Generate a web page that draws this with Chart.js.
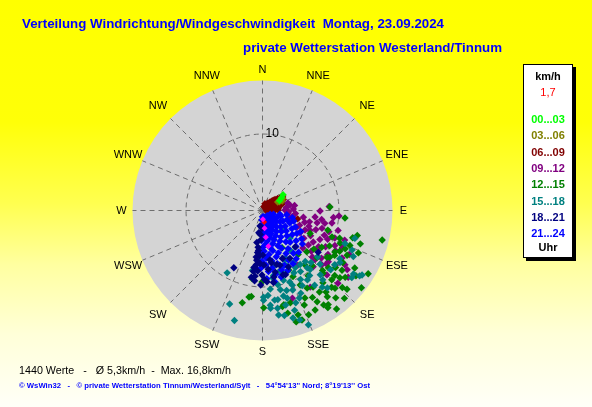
<!DOCTYPE html>
<html>
<head>
<meta charset="utf-8">
<title>Windrichtung / Windgeschwindigkeit</title>
<script src="https://cdn.jsdelivr.net/npm/chart.js@4.4.1/dist/chart.umd.min.js"></script>
<style>
html, body { margin: 0; padding: 0; }
body {
    width: 592px; height: 407px; overflow: hidden; position: relative;
    background: linear-gradient(to bottom, #ffff00 0%, #ffff08 30%, #ffff50 50%, #ffffa0 65%, #ffffd8 82%, #fffff8 100%);
    font-family: "Liberation Sans", Arial, sans-serif;
}
#rose { position: absolute; left: 0; top: 0; }
.txt { position: absolute; white-space: pre; transform-origin: left center; }
.head { color: #0000ff; font-weight: bold; font-size: 13px; line-height: 16px; }
#stats { color: #000; font-size: 11px; line-height: 14px; }
#copy { color: #0000ff; font-weight: bold; font-size: 8px; line-height: 10px; }
#legend {
    position: absolute; left: 523px; top: 64px; width: 48px; height: 192px;
    background: #fff; border: 1px solid #000; box-shadow: 3px 3px 0 #000;
}
#legend div {
    position: absolute; left: 0; width: 100%; text-align: center;
    font-size: 11px; line-height: 12px; font-weight: bold;
}
</style>
</head>
<body>
<canvas id="rose" width="592" height="407"></canvas>
<div class="txt head" id="title">Verteilung Windrichtung/Windgeschwindigkeit  Montag, 23.09.2024</div>
<div class="txt head" id="subtitle">private Wetterstation Westerland/Tinnum</div>
<div class="txt" id="stats"></div>
<div class="txt" id="copy">© WsWin32   -   © private Wetterstation Tinnum/Westerland/Sylt   -   54°54'13'' Nord; 8°19'13'' Ost</div>
<div id="legend"></div>

<script>
// Achsen / Beschriftung
const directions = ['N', 'NNE', 'NE', 'ENE', 'E', 'ESE', 'SE', 'SSE', 'S', 'SSW', 'SW', 'WSW', 'W', 'WNW', 'NW', 'NNW'];
const speedRings = [10];
const speedMax = 17;
const hourLabels = ['00...03', '03...06', '06...09', '09...12', '12...15', '15...18', '18...21', '21...24'];
const currentSpeed = '1,7';
const valueCount = 1440;
const avgSpeed = '5,3';
const maxSpeed = '16,8';

// Messwerte: [Richtung in Grad, Geschwindigkeit km/h]
const pts00_03 = [[54, 3.4], [58, 3.0], [62, 2.6]];
const pts03_06 = [[63, 2.3], [62, 2.7], [61, 3.1], [65, 2.5], [60, 2.9], [66, 2.9]];
const pts06_09 = [
    [58, 3.2], [61, 3.0], [56, 2.8], [63, 2.7], [54, 2.5], [59, 2.4], [66, 2.3], [51, 2.2], [57, 2.0], [69, 2.0],
    [48, 1.8], [62, 1.7], [73, 1.7], [45, 1.5], [58, 1.4], [77, 1.5], [84, 1.8], [88, 1.3], [40, 1.2], [66, 1.1],
    [92, 1.0], [52, 0.9], [80, 0.8], [35, 0.7], [100, 0.6], [70, 0.5], [30, 0.5], [64, 3.1], [60, 2.6], [68, 2.6],
    [82, 2.2], [90, 2.1], [95, 1.6], [76, 2.5], [72, 2.9], [104, 4.8], [55, 3.3], [50, 2.0], [45, 1.0], [25, 0.9]
];
const pts09_12 = [
    [75, 3.5], [80, 3.7], [84, 3.2], [90, 3.0], [94, 3.5], [98, 3.4], [88, 4.1], [96, 4.4], [82, 4.3], [103, 4.0],
    [107, 3.8], [116, 5.1], [115, 6.2], [121, 5.8], [112, 5.3], [106, 5.8], [100, 5.5], [104, 6.4], [109, 6.5], [124, 6.6],
    [113, 6.8], [97.5, 7.0], [103, 7.4], [110, 7.5], [133, 7.3], [118, 7.2], [127, 7.6], [91, 7.6], [122, 7.9], [99, 7.9],
    [107, 8.2], [102, 8.4], [130, 8.4], [117, 8.5], [147, 8.6], [87, 8.8], [123, 8.8], [112, 8.8], [133, 9.0], [126, 9.0],
    [108, 9.2], [100.5, 9.3], [96, 9.4], [114, 9.4], [133, 9.5], [120, 9.6], [129, 10.0], [138, 10.0], [94.5, 10.1], [111, 10.2],
    [105, 10.3], [124, 10.4], [132.5, 10.6], [116, 10.6], [119, 11.0], [130, 11.0], [128, 11.0], [110, 11.5], [115, 11.6], [148, 11.9],
    [135, 12.0], [127, 12.0], [121, 12.2], [161, 12.2], [117, 12.8], [123.5, 13.0], [125, 13.6], [134, 13.8], [128, 14.3]
];
const pts12_15 = [
    [87.5, 8.9], [95.5, 10.9], [104, 16.2], [105, 12.9], [107, 9.0], [107, 12.4], [109, 13.6], [110, 10.8], [111, 9.8], [112, 12.4],
    [113, 11.1], [114, 13.8], [115, 12.0], [116, 7.0], [118, 10.0], [118, 11.5], [118, 12.6], [120, 11.0], [121, 16.2], [122, 9.2],
    [122, 11.2], [122, 14.3], [123, 12.6], [125, 10.8], [125, 15.0], [126, 10.5], [127, 8.5], [127, 13.1], [128, 12.2], [128, 16.5],
    [129, 14.0], [131, 9.5], [131, 11.5], [131, 13.5], [132, 12.8], [133, 8.0], [133, 15.2], [134, 14.6], [135, 11.2], [135, 12.9],
    [136, 11.5], [137, 14.0], [137, 15.8], [138, 9.8], [138, 13.6], [140, 12.4], [140, 15.0], [141, 7.5], [142, 9.1], [142, 13.6],
    [143, 14.2], [143, 16.2], [145, 10.5], [145, 13.1], [145, 15.1], [146, 15.4], [146.5, 12.1], [147, 14.8], [149, 14.0], [150, 11.8],
    [150, 13.2], [152, 5.6], [152, 14.8], [153, 11.0], [154, 12.8], [155, 9.6], [156, 8.6], [156, 13.6], [156, 15.0], [160, 15.3],
    [161, 14.5], [163, 12.7], [163, 15.3], [166, 13.9], [167, 12.7], [168, 12.9], [179, 12.8], [180, 9.4], [187, 11.4], [188, 9.1],
    [188.5, 11.5], [192, 12.4]
];
const pts15_18 = [
    [135, 3.7], [135, 5.2], [145, 6.4], [184, 6.5], [154, 7.0], [155, 7.2], [167, 7.4],
    [189, 8.0], [162, 8.6], [170, 8.7], [150, 8.7], [145, 8.7], [140, 8.8], [171, 9.0], [209, 9.4], [130, 9.5],
    [163, 9.6], [141, 10.0], [168, 10.0], [159, 10.1], [133, 10.4], [151, 10.4], [158, 10.6], [144, 10.6], [167, 10.7], [163, 11.0],
    [159, 11.2], [179, 11.4], [138, 11.4], [112, 11.7], [179, 11.8], [127, 11.9], [131, 11.9], [170, 11.9], [172, 11.9], [164, 12.0],
    [145, 12.0], [122, 12.0], [139, 12.1], [124, 12.3], [157, 12.5], [175, 12.5], [107, 12.7], [166, 12.8], [142, 12.8], [175, 12.9],
    [114, 12.9], [171, 13.0], [199, 13.0], [140, 13.3], [117, 13.4], [162, 13.8], [171, 13.9], [168, 14.1], [164, 14.7], [127, 14.7],
    [125, 14.6], [194, 14.9], [161, 15.2], [124, 15.4], [123, 15.6], [158, 16.2], [148, 9.5], [153, 9.2], [156, 8.0], [160, 7.8],
    [165, 8.4], [152, 11.2], [147, 10.9], [155, 12.0], [160, 12.9], [166, 11.6], [174, 10.4], [176, 11.2], [142, 9.6], [137, 9.4],
    [149, 8.0]
];
const pts18_21 = [
    [187, 2.1], [180, 2.4], [184, 3.2], [188, 3.0], [182, 3.9], [189, 4.3], [186, 4.9],
    [185, 5.3], [186, 5.6], [179, 5.9], [183, 6.0],
    [186, 6.6], [171, 6.6], [187, 6.2], [138, 6.5], [157, 6.9], [170, 7.0], [182, 7.0], [186, 7.2], [178, 7.2],
    [150, 7.3], [165, 7.4], [187, 7.5], [162, 7.6], [174, 7.8], [188, 7.6], [188, 8.1], [184, 8.0], [155, 8.2], [168, 8.3],
    [206, 8.4], [180, 8.5], [186, 8.7], [189, 8.9], [162, 8.9], [170, 8.9], [160, 9.0], [178, 9.1], [127, 9.2], [176, 9.4],
    [186, 9.3], [171, 9.6], [181, 9.8]
];
const pts21_24 = [
    [103, 2.4], [101, 3.3], [104, 4.1],
    [110, 1.6], [108, 2.6], [111, 3.5], [109, 4.4],
    [117, 1.2], [116, 2.2], [118, 3.1], [115, 4.0], [117, 4.9], [119, 5.8],
    [124, 1.8], [123, 2.8], [125, 3.7], [122, 4.6], [124, 5.5], [126, 6.4],
    [131, 1.4], [130, 2.4], [132, 3.3], [131, 4.2], [129, 5.1], [132, 6.0], [130, 6.9],
    [138, 1.0], [137, 2.0], [139, 2.9], [138, 3.8], [136, 4.7], [139, 5.6], [137, 6.5], [139, 7.3],
    [145, 1.5], [144, 2.5], [146, 3.4], [145, 4.3], [143, 5.2], [146, 6.1], [144, 7.0], [145, 7.8],
    [152, 1.1], [151, 2.0], [153, 2.9], [152, 3.8], [150, 4.7], [153, 5.6], [151, 6.5], [152, 7.4], [150, 8.1],
    [158, 1.5], [157, 2.4], [159, 3.3], [158, 4.2], [156, 5.1], [159, 6.0], [157, 6.9], [158, 7.8], [157, 8.6],
    [164, 0.9], [163, 1.9], [165, 2.8], [164, 3.7], [162, 4.6], [165, 5.5], [163, 6.4], [164, 7.3], [162, 8.2], [164, 9.1],
    [170, 1.4], [169, 2.3], [171, 3.2], [170, 4.1], [168, 5.0], [171, 5.9], [169, 6.8], [170, 7.7], [168, 8.6], [170, 9.5],
    [176, 0.9], [175, 1.8], [177, 2.7], [176, 3.6], [174, 4.5], [177, 5.4], [175, 6.3], [176, 7.2], [174, 8.1], [176, 9.0],
    [181, 1.3], [180, 2.2], [182, 3.1], [181, 4.0], [179, 4.9], [182, 5.8], [180, 6.7], [181, 7.6]
];
// letzte Werte (hervorgehoben)
const latestPts = [[174, 1.2], [172, 2.4], [172, 3.6], [170, 4.8]];
const currentPt = [[170, 1.6]];

const hourColors = ['#00ff00', '#808000', '#800000', '#800080', '#008000', '#008080', '#000080', '#0000ff'];
// Zeichenreihenfolge: kleinere Zahl liegt oben
const hourOrder = [1, 2, 8, 7, 6, 5, 3, 4];
const hourPts = [pts00_03, pts03_06, pts06_09, pts09_12, pts12_15, pts15_18, pts18_21, pts21_24];

// Richtung/Geschwindigkeit -> Ost/Nord-Komponente
function toXY(list) {
    return list.map(([dir, v]) => {
        const a = dir * Math.PI / 180;
        return { x: v * Math.sin(a), y: v * Math.cos(a) };
    });
}

function pointSet(label, list, color, order, size) {
    return {
        label: label,
        data: toXY(list),
        order: order,
        pointStyle: 'rectRot',
        pointRadius: size,
        pointHoverRadius: size,
        pointBorderWidth: 0,
        backgroundColor: color,
        borderColor: color
    };
}

const datasets = hourLabels.map((h, i) => pointSet(h, hourPts[i], hourColors[i], hourOrder[i], 3.7));
datasets.push(pointSet('latest', latestPts, '#ff00ff', 0, 3));
datasets.push(pointSet('current', currentPt, '#ff0000', 0, 3));

// Polargitter, Richtungen und Ringbeschriftung
const roseGrid = {
    id: 'roseGrid',
    beforeDatasetsDraw(chart) {
        const { ctx, scales: { x, y } } = chart;
        const cx = Math.round(x.getPixelForValue(0)) + 0.5;
        const cy = Math.round(y.getPixelForValue(0)) + 0.5;
        const R = x.getPixelForValue(speedMax) - x.getPixelForValue(0);
        ctx.save();
        ctx.fillStyle = '#d4d4d4';
        ctx.beginPath();
        ctx.arc(cx, cy, R, 0, 2 * Math.PI);
        ctx.fill();

        ctx.strokeStyle = '#6e6e6e';
        ctx.lineWidth = 1;
        ctx.setLineDash([5, 4]);
        directions.forEach((d, i) => {
            const a = i * 22.5 * Math.PI / 180;
            ctx.beginPath();
            ctx.moveTo(cx, cy);
            ctx.lineTo(cx + R * Math.sin(a), cy - R * Math.cos(a));
            ctx.stroke();
        });
        speedRings.forEach(v => {
            const r = x.getPixelForValue(v) - x.getPixelForValue(0);
            ctx.beginPath();
            ctx.arc(cx, cy, r, 0, 2 * Math.PI);
            ctx.stroke();
        });
        ctx.setLineDash([]);

        ctx.fillStyle = '#000';
        ctx.font = '11px "Liberation Sans", Arial, sans-serif';
        ctx.textAlign = 'center';
        ctx.textBaseline = 'middle';
        directions.forEach((d, i) => {
            const a = i * 22.5 * Math.PI / 180;
            const off = i % 4 === 0 ? 11 : (i % 4 === 2 ? 18 : 15.5);
            ctx.fillText(d, cx + (R + off) * Math.sin(a), cy - (R + off) * Math.cos(a));
        });

        ctx.font = '12px "Liberation Sans", Arial, sans-serif';
        ctx.textAlign = 'left';
        speedRings.forEach(v => {
            ctx.fillText(String(v), cx + 3, y.getPixelForValue(v));
        });
        ctx.restore();
    }
};

new Chart(document.getElementById('rose'), {
    type: 'scatter',
    data: { datasets: datasets },
    options: {
        responsive: false,
        animation: false,
        events: [],
        layout: { padding: { left: 132, right: 200, top: 80, bottom: 67 } },
        scales: {
            x: { type: 'linear', min: -speedMax, max: speedMax, display: false },
            y: { type: 'linear', min: -speedMax, max: speedMax, display: false }
        },
        plugins: { legend: { display: false }, tooltip: { enabled: false } }
    },
    plugins: [roseGrid]
});

// Legende
const legend = document.getElementById('legend');
function legendRow(text, top, color, weight) {
    const el = document.createElement('div');
    el.textContent = text;
    el.style.top = top + 'px';
    el.style.color = color;
    if (weight) el.style.fontWeight = weight;
    legend.appendChild(el);
}
legendRow('km/h', 5, '#000');
legendRow(currentSpeed, 21, '#ff0000', 'normal');
hourLabels.forEach((h, i) => legendRow(h, 48 + i * 16.3, hourColors[i]));
legendRow('Uhr', 176, '#000');

document.getElementById('stats').textContent =
    valueCount + ' Werte   -   Ø ' + avgSpeed + 'km/h  -  Max. ' + maxSpeed + 'km/h';

// Texte auf Zielbreite bringen
function place(id, left, midY, width) {
    const el = document.getElementById(id);
    el.style.left = left + 'px';
    el.style.top = (midY - el.offsetHeight / 2) + 'px';
    const w = el.getBoundingClientRect().width;
    el.style.transform = 'scaleX(' + (width / w) + ')';
}
place('title', 22, 24, 422);
place('subtitle', 243, 48, 259);
place('stats', 19, 370, 212);
place('copy', 19, 386, 351);
</script>
</body>
</html>
